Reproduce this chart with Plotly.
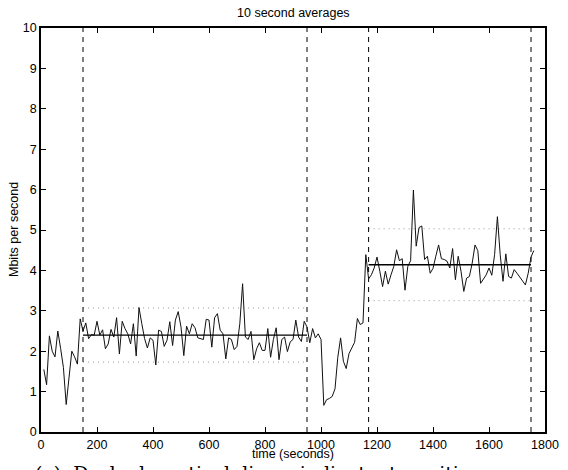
import plotly.graph_objects as go

# ---- data ----
time_s = list(range(10, 1770, 10))  # 10-second averaging bins
rate_mbps = [
    1.55, 1.17, 2.38, 2.00, 1.86, 2.50, 2.07, 1.60, 0.68, 1.35,
    2.00, 1.86, 1.68, 2.80, 2.50, 2.70, 2.31, 2.41, 2.40, 2.74,
    2.40, 2.53, 2.06, 2.18, 2.54, 2.35, 2.83, 1.93, 2.74, 2.56,
    2.43, 2.18, 2.68, 1.88, 3.08, 2.68, 2.31, 2.08, 2.33, 2.27,
    1.66, 2.52, 2.49, 2.12, 2.27, 2.73, 2.14, 2.77, 2.98, 2.60,
    1.89, 2.62, 2.43, 2.68, 2.58, 2.33, 2.31, 2.29, 2.79, 2.77,
    2.10, 2.83, 2.93, 2.52, 2.43, 1.81, 2.33, 2.29, 2.04, 2.12,
    2.68, 3.67, 2.35, 2.29, 2.49, 1.79, 2.06, 2.21, 2.02, 2.02,
    2.56, 1.85, 2.29, 2.58, 1.79, 2.29, 2.35, 1.99, 2.23, 2.29,
    2.77, 2.35, 2.24, 2.74, 2.60, 2.21, 2.56, 2.33, 2.43, 2.29,
    0.66, 0.80, 0.83, 0.88, 1.07, 1.85, 2.33, 1.75, 1.57, 1.94,
    2.08, 2.22, 2.81, 2.66, 2.70, 4.39, 3.79, 3.89, 4.06, 4.33,
    3.98, 3.60, 3.98, 3.66, 3.89, 4.10, 4.51, 4.24, 4.29, 3.51,
    4.10, 4.24, 5.99, 4.60, 5.06, 5.10, 4.27, 4.35, 3.93, 4.05,
    4.35, 4.63, 4.29, 4.27, 4.23, 4.06, 4.54, 3.77, 4.35, 3.98,
    3.48, 3.81, 3.85, 4.18, 4.63, 4.49, 3.68, 3.79, 3.89, 4.06,
    3.88, 4.39, 5.33, 4.39, 3.73, 4.41, 3.85, 3.81, 4.02, 3.93,
    3.83, 3.73, 3.64, 3.93, 4.33, 4.49,
]
transitions = [150, 950, 1170, 1750]
seg_start = [150, 1170]
seg_end = [950, 1750]
seg_mean = [2.40, 4.14]
seg_upper = [3.07, 5.03]
seg_lower = [1.73, 3.25]

x_ticks = [0, 200, 400, 600, 800, 1000, 1200, 1400, 1600, 1800]
y_ticks = [0, 1, 2, 3, 4, 5, 6, 7, 8, 9, 10]

FONT = "Liberation Sans, Arial, Helvetica, sans-serif"
SP = "\u00a0\u00a0"

fig = go.Figure()

# dotted bands
for s, e, u, l in zip(seg_start, seg_end, seg_upper, seg_lower):
    for lev in (u, l):
        fig.add_trace(go.Scatter(x=[s, e], y=[lev, lev], mode="lines",
                                 line=dict(color="#9a9a9a", width=1, dash="1px,4px"),
                                 hoverinfo="skip", showlegend=False))

# vertical transition lines
for t in transitions:
    fig.add_trace(go.Scatter(x=[t, t], y=[0, 10], mode="lines",
                             line=dict(color="black", width=1, dash="5px,5px"),
                             hoverinfo="skip", showlegend=False))

# data
fig.add_trace(go.Scatter(x=time_s, y=rate_mbps, mode="lines",
                         line=dict(color="#111111", width=1),
                         showlegend=False))

# segment means
for s, e, m in zip(seg_start, seg_end, seg_mean):
    fig.add_trace(go.Scatter(x=[s, e], y=[m, m], mode="lines",
                             line=dict(color="black", width=1.3),
                             hoverinfo="skip", showlegend=False))

axis_common = dict(showgrid=False, zeroline=False, showline=True, mirror="ticks",
                   linecolor="black", linewidth=1.5, ticks="inside", ticklen=5,
                   tickwidth=1, tickcolor="black", automargin=False,
                   tickfont=dict(family=FONT, size=12.5, color="black"))

caption = SP.join(["(a)", "Dashed", "vertical", "lines", "indicate", "transitions"])

fig.update_layout(
    width=568, height=470,
    margin=dict(l=41, r=23, t=28, b=38),
    paper_bgcolor="white", plot_bgcolor="white",
    xaxis=dict(range=[0, 1800], tickvals=x_ticks, **axis_common),
    yaxis=dict(range=[0, 10], tickvals=y_ticks, **axis_common),
    annotations=[
        dict(text="10 second averages", xref="paper", yref="paper", x=0.5, y=1 + 15 / 404,
             xanchor="center", yanchor="middle", showarrow=False,
             font=dict(family=FONT, size=12.5, color="black")),
        dict(text="time (seconds)", xref="paper", yref="paper", x=0.5, y=-22 / 404,
             xanchor="center", yanchor="middle", showarrow=False,
             font=dict(family=FONT, size=12.5, color="black")),
        dict(text="Mbits per second", xref="paper", yref="paper", x=-27 / 504, y=0.5,
             xanchor="center", yanchor="middle", textangle=-90, showarrow=False,
             font=dict(family=FONT, size=12.5, color="black")),
        dict(text=caption, xref="paper", yref="paper",
             x=-8 / 504, y=-28 / 404, xanchor="left", yanchor="top", showarrow=False,
             font=dict(family="DejaVu Serif, Liberation Serif, serif", size=19, color="black")),
    ],
)

fig.write_html("out.html", config={"displayModeBar": False},
               post_script="document.body.style.margin='0';document.body.style.overflow='hidden';")
